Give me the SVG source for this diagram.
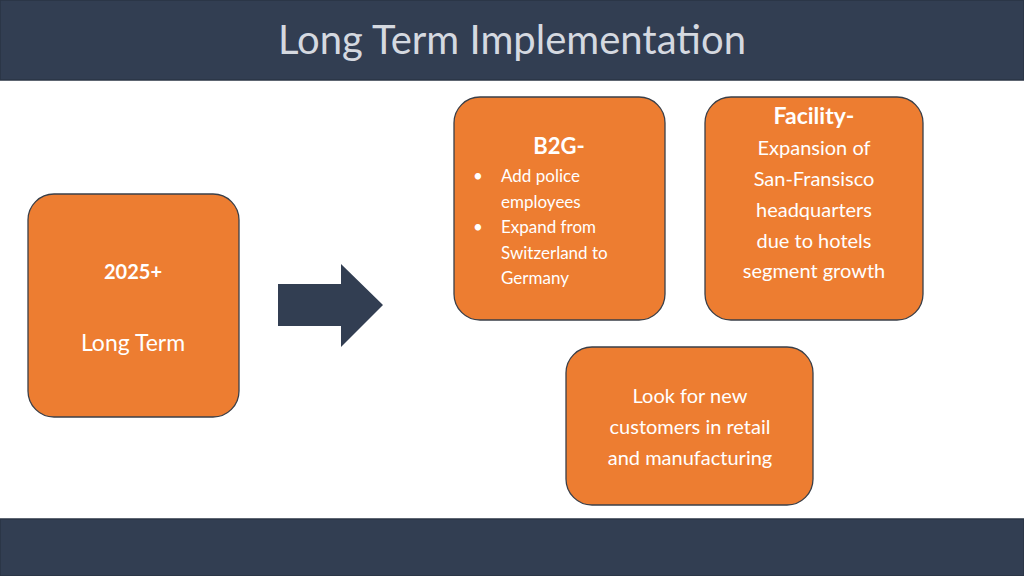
<svg xmlns="http://www.w3.org/2000/svg" width="1024" height="576" viewBox="0 0 1024 576">
<style>
.band{fill:#323E52;stroke:#2A3444;stroke-width:1.5}
.box{fill:#ED7D31;stroke:#3A3F48;stroke-width:1.3}
text{font-family:Lato,"Open Sans","Liberation Sans",sans-serif;fill:#fff}
.t{font-size:20px;text-anchor:middle}
.s{font-size:17px}
.b{font-weight:bold}
</style>
<rect width="1024" height="576" fill="#fff"/>
<rect class="band" x="0" y="0" width="1024" height="80"/>
<rect class="band" x="0" y="519" width="1024" height="57"/>
<text x="512" y="54" style="font-size:40px;fill:#D5D9E0;text-anchor:middle">Long Term Implementation</text>
<g id="n2025"><rect class="box" x="28" y="194" width="211" height="223" rx="26"/>
<text class="t b" x="133" y="279">2025+</text><text class="t" x="133" y="351" style="font-size:23px">Long Term</text></g>
<g id="connectors"><path d="M278 284H341V264L383 305L341 347V326H278Z" fill="#323E52"/></g>
<g id="b2g"><rect class="box" x="454" y="97" width="211" height="223" rx="26"/>
<text class="t b" x="559" y="154" style="font-size:22px">B2G-</text>
<text class="s" x="473" y="182">•</text><text class="s" x="501" y="182">Add police</text>
<text class="s" x="501" y="208">employees</text>
<text class="s" x="473" y="233">•</text><text class="s" x="501" y="233">Expand from</text>
<text class="s" x="501" y="259">Switzerland to</text>
<text class="s" x="501" y="284">Germany</text></g>
<g id="facility"><rect class="box" x="705" y="97" width="218" height="223" rx="26"/>
<text class="t b" x="814" y="124" style="font-size:23px">Facility-</text>
<text class="t" x="814" y="155">Expansion of</text>
<text class="t" x="814" y="186">San-Fransisco</text>
<text class="t" x="814" y="217">headquarters</text>
<text class="t" x="814" y="248">due to hotels</text>
<text class="t" x="814" y="278">segment growth</text></g>
<g id="look"><rect class="box" x="566" y="347" width="247" height="158" rx="26"/>
<text class="t" x="690" y="403">Look for new</text>
<text class="t" x="690" y="434">customers in retail</text>
<text class="t" x="690" y="465">and manufacturing</text></g>
</svg>
